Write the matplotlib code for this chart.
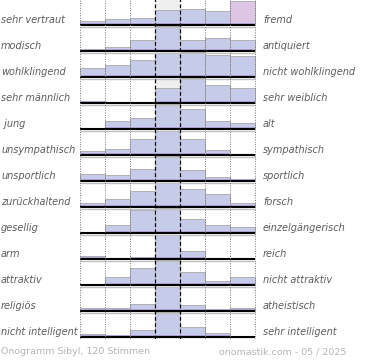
import matplotlib
matplotlib.use("Agg")
import matplotlib.pyplot as plt
from matplotlib import transforms

# Onogramm "Sibyl" - 7-step scale per word pair
left_labels = ["sehr vertraut", "modisch", "wohlklingend", "sehr männlich", " jung",
               "unsympathisch", "unsportlich", "zurückhaltend", "gesellig", "arm",
               "attraktiv", "religiös", "nicht intelligent"]
right_labels = ["fremd", "antiquiert", "nicht wohlklingend", "sehr weiblich", "alt",
                "sympathisch", "sportlich", "forsch", "einzelgängerisch", "reich",
                "nicht attraktiv", "atheistisch", "sehr intelligent"]
# relative bar heights per row (largest bar = 25)
shares = [
    [3.7, 5.7, 7.0, 14.7, 15.7, 14.3, 24.0],
    [2.3, 3.7, 10.7, 25.0, 11.3, 12.7, 11.3],
    [9.0, 11.7, 16.7, 24.0, 24.5, 22.3, 21.5],
    [2.0, 0.0, 0.0, 15.3, 24.7, 17.7, 15.3],
    [0.0, 7.7, 10.7, 25.0, 19.7, 7.7, 5.7],
    [4.3, 5.7, 15.7, 24.3, 15.7, 4.7, 1.0],
    [6.7, 5.7, 11.7, 25.0, 10.7, 3.7, 2.0],
    [3.7, 7.7, 15.7, 24.3, 17.7, 12.7, 3.7],
    [1.0, 7.7, 23.3, 25.0, 13.7, 7.7, 5.7],
    [3.3, 1.0, 2.3, 24.3, 7.7, 1.0, 0.0],
    [0.0, 7.7, 16.7, 25.0, 12.7, 4.3, 7.7],
    [2.7, 2.7, 6.7, 24.3, 5.7, 1.7, 2.7],
    [3.0, 2.3, 7.3, 25.0, 10.3, 4.0, 0.0],
]
footer_left = "Onogramm Sibyl, 120 Stimmen"
footer_right = "onomastik.com - 05 / 2025"

W, H = 370, 360
row_px = 26.0
full = 25.0

fig = plt.figure(figsize=(W / 100, H / 100), dpi=100)
# axes spans pixel x 79..256, pixel y -1..339
ax = fig.add_axes([79 / W, (H - 339) / H, 177 / W, 340 / H])
ax.set_xlim(-0.04, 7.04)
ax.set_ylim(340 / row_px, 0)
ax.axis("off")

cols = list(range(7))
for i, row in enumerate(shares):
    base = i + 1
    # grey background of the middle column
    ax.bar(3.5, -full / row_px, bottom=base, width=1, color="#efefef", zorder=1)
    for c, v in zip(cols, row):
        if v <= 0:
            continue
        h = v / row_px
        top = "#dcc5e5" if (i == 0 and c == 6) else "#c6cbe9"
        ax.bar(c + 0.5, -h, bottom=base, width=1, color=top,
               edgecolor="#b0b0b0", linewidth=0.7, zorder=2)
        band = min(h, 2.5 / row_px)
        ax.bar(c + 0.5, -band, bottom=base, width=1, color="#b3a8d7",
               linewidth=0, zorder=2.5)
    ax.hlines(base + 1.5 / row_px, 0, 7, color="#c0c0c0", linewidth=1, zorder=3)
    ax.hlines(base, 0, 7, color="black", linewidth=1.5, zorder=4)

for x in [0, 1, 2, 5, 6, 7]:
    ax.axvline(x, color="#777777", linestyle=(0, (1, 1.5)), linewidth=0.7, zorder=5)
for x in [3, 4]:
    ax.axvline(x, color="black", linestyle=(0, (3, 2)), linewidth=0.9, zorder=5)

tr = transforms.blended_transform_factory(fig.transFigure, ax.transData)
for i, (l, r) in enumerate(zip(left_labels, right_labels)):
    y = i + 1 - 5 / row_px
    ax.text(1 / W, y, l, transform=tr, ha="left", va="center", fontsize=7,
            style="italic", color="#5c5c5c")
    ax.text(263 / W, y, r, transform=tr, ha="left", va="center", fontsize=7,
            style="italic", color="#5c5c5c")

fig.text(1 / W, (H - 352) / H, footer_left, ha="left", va="center",
         fontsize=6.8, color="#b4b4b4")
fig.text(346 / W, (H - 352) / H, footer_right, ha="right", va="center",
         fontsize=6.8, color="#b4b4b4")

fig.savefig("out.png", dpi=100)
